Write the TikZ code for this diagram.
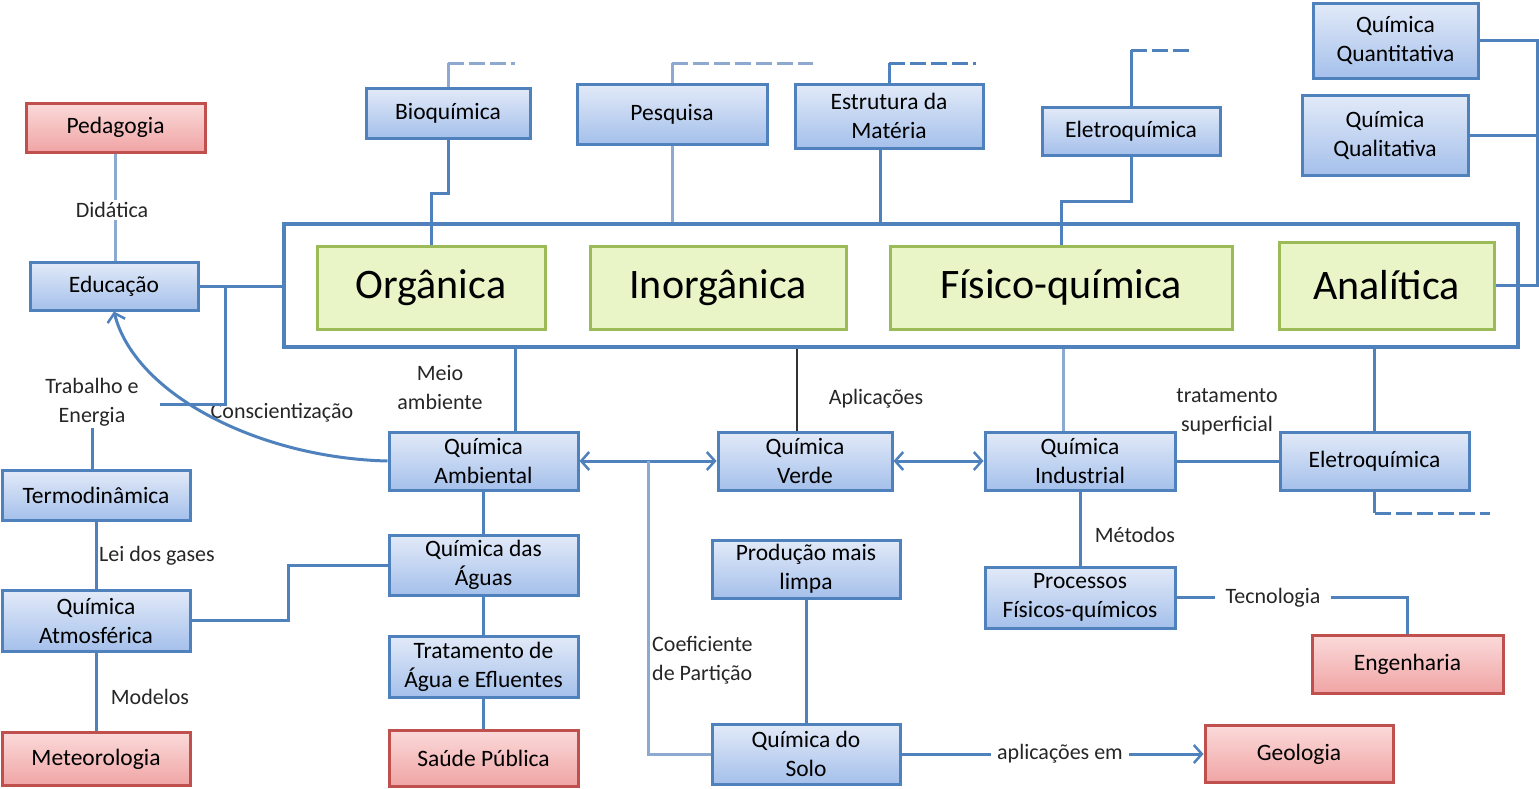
\documentclass[tikz,border=0pt]{standalone}
\usepackage{fontspec}
\setmainfont{Carlito}
\usetikzlibrary{arrows.meta,calc}
\definecolor{bb}{HTML}{4F81BD}
\definecolor{pale}{HTML}{8EA9CF}
\definecolor{btop}{HTML}{E2EAF8}
\definecolor{bbot}{HTML}{A5C0EB}
\definecolor{rtop}{HTML}{FBDADA}
\definecolor{rbot}{HTML}{F0A4A4}
\definecolor{rbd}{HTML}{C0504D}
\definecolor{gfill}{HTML}{E9F5C6}
\definecolor{gbd}{HTML}{9BBB59}
\tikzset{
  bluebox/.style={draw=bb,line width=3pt,top color=btop,bottom color=bbot,align=center,inner sep=1pt,font=\fontsize{23.5}{29}\selectfont},
  redbox/.style={draw=rbd,line width=3pt,top color=rtop,bottom color=rbot,align=center,inner sep=1pt,font=\fontsize{23.5}{29}\selectfont},
  greenbox/.style={draw=gbd,line width=3pt,fill=gfill,align=center,font=\fontsize{42}{48}\selectfont},
  lbl/.style={align=center,inner sep=2pt,text=black!85,font=\fontsize{22}{29}\selectfont},
  conn/.style={draw=bb,line width=3pt},
  pconn/.style={draw=pale,line width=3pt},
  stub/.style={draw=bb,line width=3pt,dash pattern=on 16pt off 5pt},
  arr/.style={-{Straight Barb[length=8pt,width=18pt,line width=2.5pt]}},
  darr/.style={{Straight Barb[length=8pt,width=18pt,line width=2.5pt]}-{Straight Barb[length=8pt,width=18pt,line width=2.5pt]}}
}
\begin{document}
\begin{tikzpicture}[x=1pt,y=-1pt]
\useasboundingbox (0,0) rectangle (1539,788);
% container
\node[draw=bb,line width=4pt,fill=white,minimum width=1234pt,minimum height=123pt] (cont) at (901,285.5) {};
% green
\node[greenbox,minimum width=228pt,minimum height=83pt] (org) at (431,287.5) {Orgânica};
\node[greenbox,minimum width=256pt,minimum height=83pt] (inorg) at (718,287.5) {Inorgânica};
\node[greenbox,minimum width=342pt,minimum height=83pt] (fq) at (1061,287.5) {Físico-química};
\node[greenbox,minimum width=215pt,minimum height=87pt] (anal) at (1386.5,285.5) {Analítica};
% blue
\node[bluebox,minimum width=168pt,minimum height=48pt] (edu) at (114,286) {Educação};
\node[bluebox,minimum width=164pt,minimum height=50pt] (bio) at (448,113) {Bioquímica};
\node[bluebox,minimum width=190pt,minimum height=60pt] (pesq) at (672,114) {Pesquisa};
\node[bluebox,minimum width=188pt,minimum height=64pt] (estr) at (889,116) {Estrutura da\\Matéria};
\node[bluebox,minimum width=178pt,minimum height=48pt] (eletop) at (1131,131) {Eletroquímica};
\node[bluebox,minimum width=165pt,minimum height=75pt] (qquant) at (1395.5,40.5) {Química\\Quantitativa};
\node[bluebox,minimum width=166pt,minimum height=80pt] (qqual) at (1385,135) {Química\\Qualitativa};
\node[bluebox,minimum width=189pt,minimum height=58pt] (amb) at (483.5,461) {Química\\Ambiental};
\node[bluebox,minimum width=174pt,minimum height=58pt] (verde) at (805,461) {Química\\Verde};
\node[bluebox,minimum width=190pt,minimum height=58pt] (ind) at (1080,461) {Química\\Industrial};
\node[bluebox,minimum width=189pt,minimum height=58pt] (eler) at (1374.5,461) {Eletroquímica};
\node[bluebox,minimum width=188pt,minimum height=50pt] (termo) at (96,495) {Termodinâmica};
\node[bluebox,minimum width=188pt,minimum height=61pt] (atm) at (96,620.5) {Química\\Atmosférica};
\node[bluebox,minimum width=189pt,minimum height=60pt] (aguas) at (483.5,565) {Química das\\Águas};
\node[bluebox,minimum width=189pt,minimum height=61pt] (trat) at (483.5,666.5) {Tratamento de\\Água e Efluentes};
\node[bluebox,minimum width=188pt,minimum height=58pt] (prod) at (806,569) {Produção mais\\limpa};
\node[bluebox,minimum width=188pt,minimum height=60pt] (solo) at (806,754) {Química do\\Solo};
\node[bluebox,minimum width=190pt,minimum height=61pt] (proc) at (1080,597.5) {Processos\\Físicos-químicos};
% red
\node[redbox,minimum width=179pt,minimum height=49pt] (ped) at (115.5,127.5) {Pedagogia};
\node[redbox,minimum width=188pt,minimum height=53pt] (meteo) at (96,759) {Meteorologia};
\node[redbox,minimum width=189pt,minimum height=56pt] (saude) at (483.5,758) {Saúde Pública};
\node[redbox,minimum width=191pt,minimum height=58pt] (eng) at (1407.5,664) {Engenharia};
\node[redbox,minimum width=188pt,minimum height=57pt] (geo) at (1299,754) {Geologia};
% labels
\node[lbl] (didat) at (112,210) {Didática};
\node[lbl] (trab) at (92,402) {Trabalho e\\Energia};
\node[lbl] (consc) at (282,413) {Conscientização};
\node[lbl] (leidos) at (157,556) {Lei dos gases};
\node[lbl] (modelos) at (150,697) {Modelos};
\node[lbl] (meio) at (440,388) {Meio\\ambiente};
\node[lbl] (aplic) at (876,399) {Aplicações};
\node[lbl,align=left,anchor=west] (coef) at (650,660) {Coeficiente\\de Partição};
\node[lbl] (tratsup) at (1227,412) {tratamento\\superficial};
\node[lbl] (metodos) at (1135,535) {Métodos};
\node[lbl,inner sep=10pt] (tecno) at (1273,597.5) {Tecnologia};
\node[lbl,inner sep=6pt] (aplicem) at (1060,754) {aplicações em};
% coordinates
\coordinate (edubr) at (225,286);
\coordinate (edubrend) at (160,404);
\coordinate (cp) at (648,461);
\coordinate (rline) at (1537,0);
\coordinate (biostub) at (515,63);
\coordinate (pesqstub) at (813,63);
\coordinate (estrstub) at (976,63);
\coordinate (elestub) at (1193,50);
\coordinate (elerstub) at (1490,513);
% connectors left
\draw[pconn] (ped.south) -- (ped.south |- didat.north);
\draw[pconn] (ped.south |- didat.south) -- (ped.south |- edu.north);
\draw[conn] (edu.east) -- (edu.east -| cont.west);
\draw[conn] (edubr) |- (edubrend);
\draw[conn,arr] (amb.west) .. controls (260,458) and (135,395) .. (edu.south);
\draw[conn] (trab.south) -- (trab.south |- termo.north);
\draw[conn] (termo.south) -- (atm.north);
\draw[conn] (atm.south) -- (meteo.north);
\draw[conn] (atm.east) -- ++(97,0) |- (aguas.west);
% middle
\draw[conn] ([xshift=32pt]amb.north) -- ([xshift=32pt]amb.north |- cont.south);
\draw[conn] (amb.south) -- (aguas.north);
\draw[conn] (aguas.south) -- (trat.north);
\draw[conn] (trat.south) -- (saude.north);
\draw[conn,darr] (amb.east) -- (verde.west);
\draw[pconn] (cp) |- (solo.west);
\draw[line width=2.5pt,draw=black!80] ([xshift=-8pt]verde.north) -- ([xshift=-8pt]verde.north |- cont.south);
\draw[conn,darr] (verde.east) -- (ind.west);
\draw[pconn] ([xshift=-17pt]ind.north) -- ([xshift=-17pt]ind.north |- cont.south);
\draw[conn] (ind.east) -- (eler.west);
\draw[conn] (eler.north) -- (eler.north |- cont.south);
\draw[conn] (eler.south) -- (eler.south |- elerstub);
\draw[stub] (eler.south |- elerstub) -- (elerstub);
\draw[conn] (ind.south) -- (proc.north);
\draw[conn] (proc.east) -- (tecno.west);
\draw[conn] (tecno.east) -| (eng.north);
\draw[conn] (prod.south) -- (solo.north);
\draw[conn] (solo.east) -- (aplicem.west);
\draw[conn,arr] (aplicem.east) -- (aplicem.east -| geo.west);
% top
\draw[conn] (bio.south) -- ++(0,54) -| (org.north);
\draw[pconn] (bio.north) -- (bio.north |- biostub);
\draw[stub,draw=pale] (bio.north |- biostub) -- (biostub);
\draw[pconn] (pesq.south) -- (pesq.south |- cont.north);
\draw[pconn] (pesq.north) -- (pesq.north |- pesqstub);
\draw[stub,draw=pale] (pesq.north |- pesqstub) -- (pesqstub);
\draw[conn] ([xshift=-9pt]estr.south) -- ([xshift=-9pt]estr.south |- cont.north);
\draw[conn] (estr.north) -- (estr.north |- estrstub);
\draw[stub] (estr.north |- estrstub) -- (estrstub);
\draw[conn] (eletop.south) -- ++(0,45) -| (fq.north);
\draw[conn] (eletop.north) -- (eletop.north |- elestub);
\draw[stub] (eletop.north |- elestub) -- (elestub);
\draw[conn] (qquant.east) -- (qquant.east -| rline) |- (anal.east);
\draw[conn] (qqual.east) -- (qqual.east -| rline);
\end{tikzpicture}
\end{document}
